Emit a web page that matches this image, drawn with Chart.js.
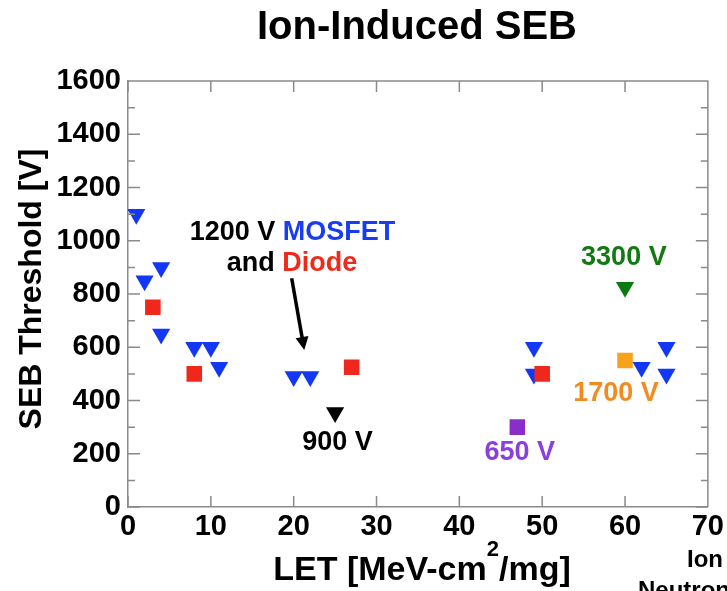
<!DOCTYPE html>
<html>
<head>
<meta charset="utf-8">
<title>Ion-Induced SEB</title>
<script src="https://cdn.jsdelivr.net/npm/chart.js@4.4.0/dist/chart.umd.min.js"></script>
<style>
  html, body { margin: 0; padding: 0; background: #fff; }
  #wrap { width: 727px; height: 591px; }
</style>
</head>
<body>
<div id="wrap"><canvas id="seb-chart" width="727" height="591"></canvas></div>
<script>
// LET [MeV-cm2/mg] vs SEB threshold [V]
const mosfetLet = [1, 2, 4, 4, 8, 10, 11, 20, 22, 49, 49, 62, 65, 65];
const mosfetSeb = [1100, 850, 900, 650, 600, 600, 525, 490, 490, 600, 500, 525, 600, 500];
const diodeLet = [3, 8, 27, 50];
const diodeSeb = [750, 500, 525, 500];
const mosfet900Let = [25];
const mosfet900Seb = [355];
const mosfet3300Let = [60];
const mosfet3300Seb = [825];
const device650Let = [47];
const device650Seb = [300];
const device1700Let = [60];
const device1700Seb = [550];

// axes
const xTicks = [0, 10, 20, 30, 40, 50, 60, 70];
const yTicks = [0, 200, 400, 600, 800, 1000, 1200, 1400, 1600];

const FONT = "'Liberation Sans', Arial, Helvetica, sans-serif";
const axisColor = '#8a8a8a';

function toPoints(xs, ys) {
    return xs.map((x, i) => ({ x: x, y: ys[i] }));
}

// dibuja texto con partes de distintos colores, centrado en cx
function drawPieces(ctx, pieces, cx, y) {
    let total = 0;
    pieces.forEach(p => { total += ctx.measureText(p[0]).width; });
    let x = cx - total / 2;
    ctx.textAlign = 'left';
    pieces.forEach(p => {
        ctx.fillStyle = p[1];
        ctx.fillText(p[0], x, y);
        x += ctx.measureText(p[0]).width;
    });
}

const decorPlugin = {
    id: 'decor',
    afterDraw(chart) {
        const ctx = chart.ctx;
        const xs = chart.scales.x;
        const ys = chart.scales.y;
        const a = chart.chartArea;
        ctx.save();

        // marco superior y derecho
        ctx.strokeStyle = axisColor;
        ctx.lineWidth = 1.5;
        ctx.beginPath();
        ctx.moveTo(a.left, a.top);
        ctx.lineTo(a.right, a.top);
        ctx.lineTo(a.right, a.bottom);
        // ticks hacia adentro
        for (let v = 0; v <= 1600; v += 100) {
            const py = ys.getPixelForValue(v);
            const len = v % 200 === 0 ? 12 : 7;
            ctx.moveTo(a.left, py); ctx.lineTo(a.left + len, py);
            ctx.moveTo(a.right, py); ctx.lineTo(a.right - len, py);
        }
        xTicks.forEach(v => {
            const px = xs.getPixelForValue(v);
            ctx.moveTo(px, a.bottom); ctx.lineTo(px, a.bottom - 11);
            ctx.moveTo(px, a.top); ctx.lineTo(px, a.top + 11);
        });
        ctx.stroke();

        // titulo
        ctx.fillStyle = '#000';
        ctx.textBaseline = 'alphabetic';
        ctx.textAlign = 'center';
        ctx.font = 'bold 40px ' + FONT;
        ctx.fillText('Ion-Induced SEB', 417, 39);

        // titulo eje Y
        ctx.save();
        ctx.translate(41, 289);
        ctx.rotate(-Math.PI / 2);
        ctx.font = 'bold 32px ' + FONT;
        ctx.fillText('SEB Threshold [V]', 0, 0);
        ctx.restore();

        // titulo eje X con superindice
        ctx.font = 'bold 34px ' + FONT;
        const partA = 'LET [MeV-cm';
        const partB = '/mg]';
        const wA = ctx.measureText(partA).width;
        const wB = ctx.measureText(partB).width;
        ctx.font = 'bold 22px ' + FONT;
        const wSup = ctx.measureText('2').width;
        let sx = 422 - (wA + wSup + wB) / 2;
        ctx.textAlign = 'left';
        ctx.font = 'bold 34px ' + FONT;
        ctx.fillText(partA, sx, 580);
        ctx.font = 'bold 22px ' + FONT;
        ctx.fillText('2', sx + wA, 556);
        ctx.font = 'bold 34px ' + FONT;
        ctx.fillText(partB, sx + wA + wSup, 580);

        // texto cortado a la derecha
        ctx.font = 'bold 24px ' + FONT;
        ctx.textAlign = 'center';
        ctx.fillText('Ion', 705, 567);
        ctx.textAlign = 'left';
        ctx.fillText('Neutron', 638, 598);

        // anotaciones (en unidades de datos)
        const px = v => xs.getPixelForValue(v);
        const py = v => ys.getPixelForValue(v);
        ctx.font = 'bold 27px ' + FONT;
        drawPieces(ctx, [['1200 V ', '#000'], ['MOSFET', '#1a3cf0']], px(19.85), py(1003));
        drawPieces(ctx, [['and ', '#000'], ['Diode', '#ee2a1b']], px(19.8), py(886));
        drawPieces(ctx, [['900 V', '#000']], px(25.28), py(214));
        drawPieces(ctx, [['3300 V', '#137a13']], px(59.86), py(909));
        drawPieces(ctx, [['1700 V', '#f08c22']], px(58.9), py(398));
        drawPieces(ctx, [['650 V', '#8a3fe0']], px(47.3), py(176));

        // flecha
        const x0 = px(19.76), y0 = py(859);
        const x1 = px(21.28), y1 = py(590);
        const ang = Math.atan2(y1 - y0, x1 - x0);
        const head = 13;
        ctx.strokeStyle = '#000';
        ctx.fillStyle = '#000';
        ctx.lineWidth = 3.5;
        ctx.beginPath();
        ctx.moveTo(x0, y0);
        ctx.lineTo(x1 - head * 0.8 * Math.cos(ang), y1 - head * 0.8 * Math.sin(ang));
        ctx.stroke();
        ctx.beginPath();
        ctx.moveTo(x1, y1);
        ctx.lineTo(x1 - head * Math.cos(ang) + 6.5 * Math.sin(ang), y1 - head * Math.sin(ang) - 6.5 * Math.cos(ang));
        ctx.lineTo(x1 - head * Math.cos(ang) - 6.5 * Math.sin(ang), y1 - head * Math.sin(ang) + 6.5 * Math.cos(ang));
        ctx.closePath();
        ctx.fill();

        ctx.restore();
    }
};

function triangleSet(label, xs, ys, color, order) {
    return {
        label: label,
        data: toPoints(xs, ys),
        pointStyle: 'triangle',
        rotation: 180,
        radius: 10.5,
        backgroundColor: color,
        borderColor: color,
        borderWidth: 0,
        order: order
    };
}

function squareSet(label, xs, ys, color, order) {
    return {
        label: label,
        data: toPoints(xs, ys),
        pointStyle: 'rect',
        radius: 11,
        backgroundColor: color,
        borderColor: color,
        borderWidth: 0,
        order: order
    };
}

const ctx = document.getElementById('seb-chart').getContext('2d');
new Chart(ctx, {
    type: 'scatter',
    data: {
        datasets: [
            squareSet('Diode 1200 V', diodeLet, diodeSeb, '#f0281c', 0),
            triangleSet('MOSFET 1200 V', mosfetLet, mosfetSeb, '#1238f5', 1),
            triangleSet('900 V', mosfet900Let, mosfet900Seb, '#000000', 1),
            triangleSet('3300 V', mosfet3300Let, mosfet3300Seb, '#0b7a12', 1),
            squareSet('650 V', device650Let, device650Seb, '#8a2ec8', 1),
            squareSet('1700 V', device1700Let, device1700Seb, '#f8a21c', 2)
        ]
    },
    options: {
        responsive: false,
        animation: false,
        devicePixelRatio: 1,
        layout: { padding: { left: 0, top: 81, right: 19, bottom: 0 } },
        plugins: {
            legend: { display: false },
            tooltip: { enabled: false },
            title: { display: false }
        },
        scales: {
            x: {
                type: 'linear',
                min: 0,
                max: 70,
                afterFit: scale => { scale.height = 84; },
                afterBuildTicks: scale => { scale.ticks = xTicks.map(v => ({ value: v })); },
                grid: { display: false, tickLength: 0 },
                border: { display: true, color: axisColor, width: 1.5 },
                ticks: {
                    color: '#000',
                    padding: 3,
                    maxRotation: 0,
                    autoSkip: false,
                    callback: v => String(v),
                    font: { family: FONT, size: 29, weight: 'bold' }
                }
            },
            y: {
                type: 'linear',
                min: 0,
                max: 1600,
                afterFit: scale => { scale.width = 128; },
                afterBuildTicks: scale => { scale.ticks = yTicks.map(v => ({ value: v })); },
                grid: { display: false, tickLength: 0 },
                border: { display: true, color: axisColor, width: 1.5 },
                ticks: {
                    color: '#000',
                    padding: 7,
                    autoSkip: false,
                    callback: v => String(v),
                    font: { family: FONT, size: 29, weight: 'bold' }
                }
            }
        }
    },
    plugins: [decorPlugin]
});
</script>
</body>
</html>
